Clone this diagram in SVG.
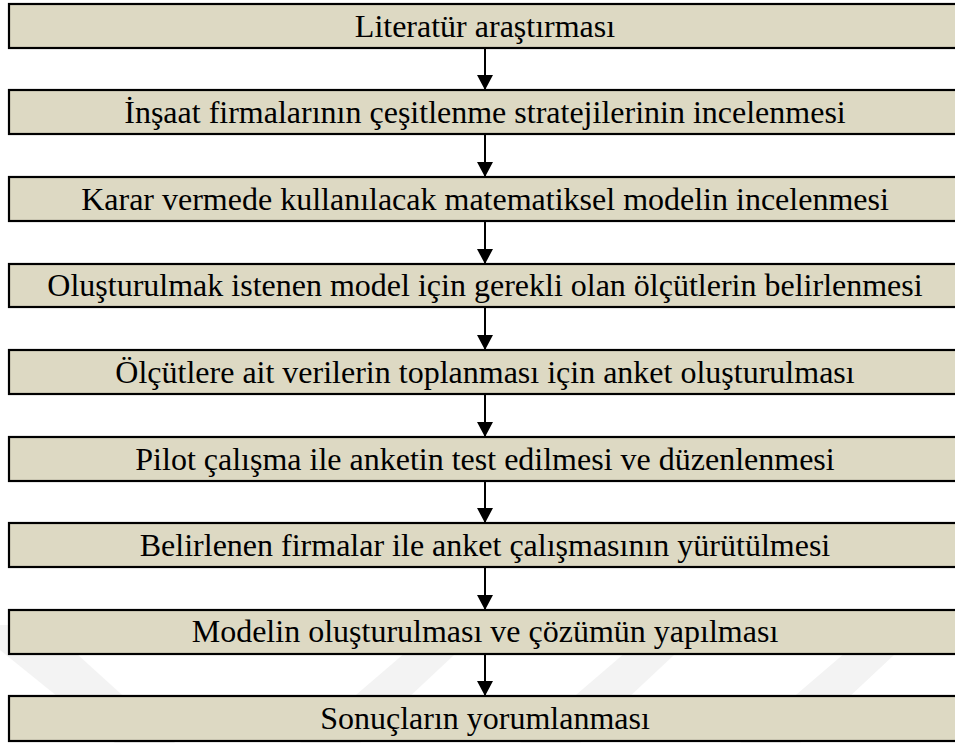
<svg xmlns="http://www.w3.org/2000/svg" width="955" height="743" viewBox="0 0 955 743">
<style>
.box{fill:#DDD9C3;stroke:#000;stroke-width:2.2}
.lbl{font-family:"Liberation Serif","Times New Roman",serif;font-size:32px;fill:#000;text-anchor:middle}
.wm{fill:#f3f3f3}
.conn line{stroke:#000;stroke-width:2}
</style>
<defs>
<marker id="ah" markerWidth="16" markerHeight="17" refX="15" refY="8" orient="auto" markerUnits="userSpaceOnUse">
<path d="M0,0 L15,8 L0,16 Z" fill="#000"/>
</marker>
</defs>
<rect width="955" height="743" fill="#fff"/>
<g id="watermark">
<polygon class="wm" points="0,625 45,625 175,743 115,743 0,650"/>
<polygon class="wm" points="300,743 360,743 470,640 420,640"/>
<polygon class="wm" points="520,743 580,743 690,640 640,640"/>
<polygon class="wm" points="740,743 800,743 910,640 860,640"/>
</g>
<g id="connectors" class="conn">
<line x1="485" y1="48" x2="485" y2="90" marker-end="url(#ah)"/>
<line x1="485" y1="134" x2="485" y2="177" marker-end="url(#ah)"/>
<line x1="485" y1="221" x2="485" y2="264" marker-end="url(#ah)"/>
<line x1="485" y1="307" x2="485" y2="350" marker-end="url(#ah)"/>
<line x1="485" y1="394" x2="485" y2="437" marker-end="url(#ah)"/>
<line x1="485" y1="481" x2="485" y2="523" marker-end="url(#ah)"/>
<line x1="485" y1="567" x2="485" y2="610" marker-end="url(#ah)"/>
<line x1="485" y1="654" x2="485" y2="696" marker-end="url(#ah)"/>
</g>
<g id="n1"><rect class="box" x="9" y="4" width="955" height="44"/><text class="lbl" x="485" y="37">Literatür araştırması</text></g>
<g id="n2"><rect class="box" x="9" y="90" width="955" height="44"/><text class="lbl" x="485" y="123">İnşaat firmalarının çeşitlenme stratejilerinin incelenmesi</text></g>
<g id="n3"><rect class="box" x="9" y="177" width="955" height="44"/><text class="lbl" x="485" y="210">Karar vermede kullanılacak matematiksel modelin incelenmesi</text></g>
<g id="n4"><rect class="box" x="9" y="264" width="955" height="43"/><text class="lbl" x="485" y="296">Oluşturulmak istenen model için gerekli olan ölçütlerin belirlenmesi</text></g>
<g id="n5"><rect class="box" x="9" y="350" width="955" height="44"/><text class="lbl" x="485" y="383">Ölçütlere ait verilerin toplanması için anket oluşturulması</text></g>
<g id="n6"><rect class="box" x="9" y="437" width="955" height="44"/><text class="lbl" x="485" y="470">Pilot çalışma ile anketin test edilmesi ve düzenlenmesi</text></g>
<g id="n7"><rect class="box" x="9" y="523" width="955" height="44"/><text class="lbl" x="485" y="556">Belirlenen firmalar ile anket çalışmasının yürütülmesi</text></g>
<g id="n8"><rect class="box" x="9" y="610" width="955" height="44"/><text class="lbl" x="485" y="642">Modelin oluşturulması ve çözümün yapılması</text></g>
<g id="n9"><rect class="box" x="9" y="696" width="955" height="45"/><text class="lbl" x="485" y="729">Sonuçların yorumlanması</text></g>
</svg>
